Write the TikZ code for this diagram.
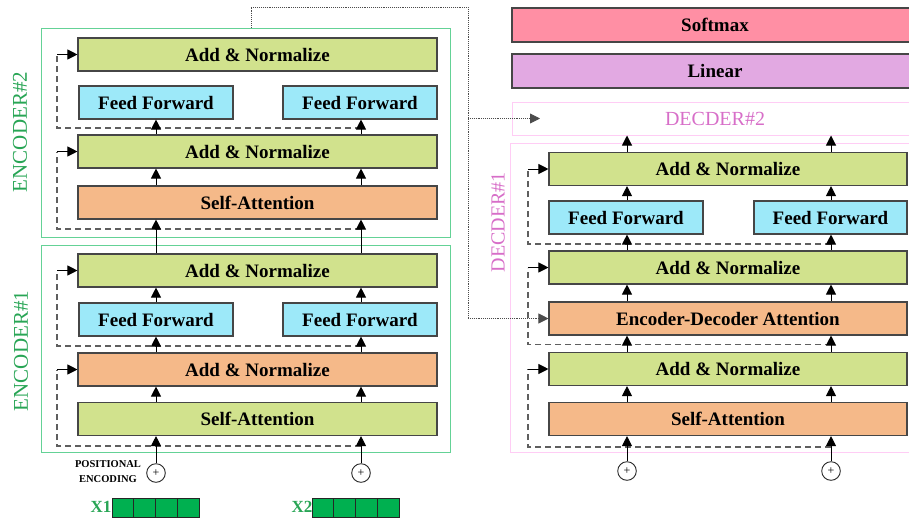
\documentclass[tikz,border=0pt]{standalone}
\usepackage{fontspec}
\setmainfont{Liberation Serif}
\usetikzlibrary{arrows.meta}
\definecolor{cgreen}{RGB}{209,226,141}
\definecolor{corange}{RGB}{245,185,137}
\definecolor{ccyan}{RGB}{157,233,249}
\definecolor{csoft}{RGB}{255,143,164}
\definecolor{clin}{RGB}{226,169,226}
\definecolor{encline}{RGB}{100,210,150}
\definecolor{decline}{RGB}{255,205,245}
\definecolor{enctext}{RGB}{40,165,85}
\definecolor{dectext}{RGB}{215,110,200}
\definecolor{xgreen}{RGB}{0,176,80}
\definecolor{boxline}{RGB}{70,70,70}
\definecolor{dashc}{RGB}{95,95,95}
\begin{document}
\begin{tikzpicture}[x=1pt,y=-1pt,
  blk/.style={draw=boxline,line width=1.1pt,inner sep=0pt,minimum height=33pt,
    font=\fontsize{19}{20}\selectfont\bfseries},
  wide/.style={blk,minimum width=359pt},
  dwide/.style={blk,minimum width=358pt},
  half/.style={blk,minimum width=154pt,fill=ccyan},
  frame/.style={draw,line width=1pt,inner sep=0pt},
  arr/.style={-{Triangle[length=10pt,width=10pt]},line width=1pt,black},
  dsh/.style={dash pattern=on 6pt off 4pt,line width=1.1pt,dashc},
  dot/.style={densely dotted,line width=0.9pt,black!70},
  plus/.style={circle,draw=black!85,line width=0.9pt,minimum size=18.6pt,inner sep=0pt,font=\fontsize{12}{12}\selectfont},
  vlab/.style={rotate=90,font=\fontsize{21}{21}\selectfont},
  cell/.style={draw=black!85,line width=0.9pt,fill=xgreen,minimum width=21.75pt,minimum height=19pt,inner sep=0pt},
  xlab/.style={font=\fontsize{17}{17}\selectfont\bfseries,text=enctext}
]
\useasboundingbox (0,0) rectangle (909,520);
\clip (0,0) rectangle (909,520);
% column coordinates
\coordinate (cL) at (156,0);
\coordinate (cR) at (361,0);
\coordinate (dL) at (627,0);
\coordinate (dR) at (831,0);
% encoder frames
\node[frame,draw=encline,minimum width=409pt,minimum height=209pt] (enc2) at (245.5,132.5) {};
\node[frame,draw=encline,minimum width=409pt,minimum height=207pt] (enc1) at (245.5,348.5) {};
\node[vlab,text=enctext] (enc2lab) at (20,132) {ENCODER\#2};
\node[vlab,text=enctext] (enc1lab) at (21,351) {ENCODER\#1};
% decoder frames
\node[frame,draw=decline,minimum width=406pt,minimum height=33pt] (dec2) at (715,118.5) {};
\node[font=\fontsize{20}{20}\selectfont,text=dectext] (dec2lab) at (715,118.5) {DECDER\#2};
\node[frame,draw=decline,minimum width=410pt,minimum height=309pt] (dec1) at (715,297.5) {};
\node[vlab,text=dectext,font=\fontsize{20}{20}\selectfont] (dec1lab) at (498,222) {DECDER\#1};
% encoder 2 blocks
\node[wide,fill=cgreen] (e2an2) at (257.5,54.5) {Add \& Normalize};
\node[half] (e2ffl) at (156,102.5) {Feed Forward};
\node[half] (e2ffr) at (360,102.5) {Feed Forward};
\node[wide,fill=cgreen] (e2an1) at (257.5,151.5) {Add \& Normalize};
\node[wide,fill=corange] (e2sa) at (257.5,202.5) {Self-Attention};
% encoder 1 blocks
\node[wide,fill=cgreen] (e1an2) at (257.5,270.5) {Add \& Normalize};
\node[half] (e1ffl) at (156,319.5) {Feed Forward};
\node[half] (e1ffr) at (360,319.5) {Feed Forward};
\node[wide,fill=corange] (e1an1) at (257.5,369.5) {Add \& Normalize};
\node[wide,fill=cgreen] (e1sa) at (257.5,419) {Self-Attention};
\node[plus] (e1p1) at (156,473) {+};
\node[plus] (e1p2) at (361,473) {+};
\node[align=center,font=\fontsize{10.5}{15}\selectfont\bfseries] (pos) at (108,471.5) {POSITIONAL\\ENCODING};
% inputs
\node[xlab] (x1lab) at (101,507) {X1};
\node[xlab] (x2lab) at (302,507) {X2};
\foreach \i/\n in {0/a,1/b,2/c,3/d}{
  \node[cell] (x1\n) at (122.875+\i*21.75,507.5) {};
  \node[cell] (x2\n) at (322.875+\i*21.75,507.5) {};
}
% top of decoder stack
\node[blk,fill=csoft,minimum width=406pt,minimum height=34pt] (soft) at (715,25) {Softmax};
\node[blk,fill=clin,minimum width=406pt,minimum height=34pt] (lin) at (715,71) {Linear};
% decoder blocks
\node[dwide,fill=cgreen] (dan3) at (728,169) {Add \& Normalize};
\node[half,minimum width=154pt] (dffl) at (626,217.5) {Feed Forward};
\node[half,minimum width=153pt] (dffr) at (830.5,217.5) {Feed Forward};
\node[dwide,fill=cgreen] (dan2) at (728,267.5) {Add \& Normalize};
\node[dwide,fill=corange] (deda) at (728,318.5) {Encoder-Decoder Attention};
\node[dwide,fill=cgreen] (dan1) at (728,369) {Add \& Normalize};
\node[dwide,fill=corange] (dsa) at (728,419) {Self-Attention};
\node[plus] (dp1) at (627,471) {+};
\node[plus] (dp2) at (831,471) {+};
% ---- dashed residual paths, encoder 2
\coordinate (r21) at (57,128);
\coordinate (r22) at (57,229);
\draw[dsh] (r21 -| cR) -- (r21) -- (r21 |- e2an2.west);
\draw[arr] (r21 |- e2an2.west) -- (e2an2.west);
\draw[dsh] (r22 -| cR) -- (r22) -- (r22 |- e2an1.west);
\draw[arr] (r22 |- e2an1.west) -- (e2an1.west);
% ---- dashed residual paths, encoder 1
\coordinate (r11) at (57,346);
\coordinate (r12) at (57,446);
\draw[dsh] (r11 -| cR) -- (r11) -- (r11 |- e1an2.west);
\draw[arr] (r11 |- e1an2.west) -- (e1an2.west);
\draw[dsh] (r12 -| cR) -- (r12) -- (r12 |- e1an1.west);
\draw[arr] (r12 |- e1an1.west) -- (e1an1.west);
% ---- dashed residual paths, decoder
\coordinate (rd3) at (528,244);
\coordinate (rd2) at (528,344.5);
\coordinate (rd1) at (528,447);
\draw[dsh] (rd3 -| dR) -- (rd3) -- (rd3 |- dan3.west);
\draw[arr] (rd3 |- dan3.west) -- (dan3.west);
\draw[dsh] (rd2 -| dR) -- (rd2) -- (rd2 |- dan2.west);
\draw[arr] (rd2 |- dan2.west) -- (dan2.west);
\draw[dsh] (rd1 -| dR) -- (rd1) -- (rd1 |- dan1.west);
\draw[arr] (rd1 |- dan1.west) -- (dan1.west);
% ---- encoder arrows
\foreach \c in {cL,cR}{
  \draw[arr] (e2sa.north -| \c) -- (e2an1.south -| \c);
  \draw[arr] (e1an2.north -| \c) -- (e2sa.south -| \c);
  \draw[arr] (e1an1.north -| \c) -- (e1ffl.south -| \c);
  \draw[arr] (e1sa.north -| \c) -- (e1an1.south -| \c);
}
\draw[arr] (e2an1.north -| cL) -- (e2ffl.south -| cL);
\draw[arr] (e2an1.north -| cR) -- (e2ffr.south -| cR);
\draw[arr] (e1ffl.north -| cL) -- (e1an2.south -| cL);
\draw[arr] (e1ffr.north -| cR) -- (e1an2.south -| cR);
\draw[arr] (e1p1.north) -- (e1sa.south -| e1p1);
\draw[arr] (e1p2.north) -- (e1sa.south -| e1p2);
% ---- decoder arrows
\foreach \c in {dL,dR}{
  \draw[arr] (dsa.north -| \c) -- (dan1.south -| \c);
  \draw[arr] (dan1.north -| \c) -- (deda.south -| \c);
  \draw[arr] (deda.north -| \c) -- (dan2.south -| \c);
  \draw[arr] (dan2.north -| \c) -- (dffl.south -| \c);
  \draw[arr] (dffl.north -| \c) -- (dan3.south -| \c);
  \draw[arr] (dan3.north -| \c) -- (dec2.south -| \c);
}
\draw[arr] (dp1.north) -- (dsa.south -| dp1);
\draw[arr] (dp2.north) -- (dsa.south -| dp2);
% ---- encoder to decoder (dotted)
\coordinate (t1) at (251,7);
\coordinate (t2) at (468,7);
\coordinate (d2in) at (540,118.5);
\draw[dot] (enc2.north -| t1) -- (t1) -- (t2) -- (t2 |- deda.west);
\draw[dot,-{Triangle[length=10pt,width=10pt]}] (t2 |- deda.west) -- (deda.west);
\draw[dot,-{Triangle[length=10pt,width=10pt]}] (t2 |- d2in) -- (d2in);
\end{tikzpicture}
\end{document}
